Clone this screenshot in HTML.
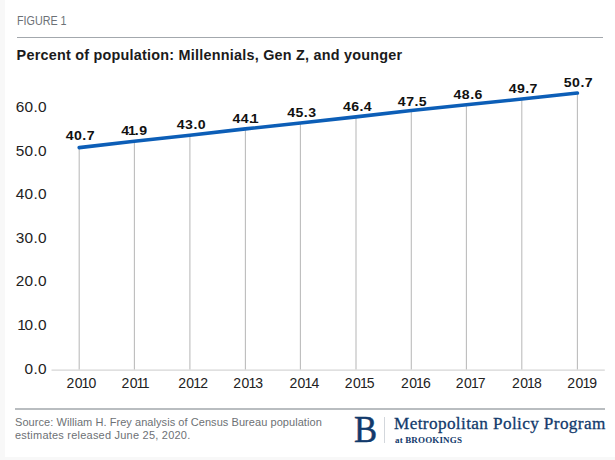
<!DOCTYPE html>
<html><head><meta charset="utf-8">
<style>
html,body{margin:0;padding:0;}
body{width:615px;height:460px;background:#f8f8f8;position:relative;overflow:hidden;font-family:"Liberation Sans",sans-serif;}
.card{position:absolute;left:5px;top:0;width:610px;height:457px;background:#fff;}
.t{position:absolute;white-space:nowrap;line-height:1;}
.fig{left:16.6px;top:15.3px;font-size:12px;color:#6c7176;transform:scaleX(0.895);transform-origin:0 0;}
.hr1{position:absolute;left:17px;top:36.9px;width:586px;height:1.3px;background:#a3a8ad;}
.title{left:16.6px;top:47.5px;font-size:14.4px;font-weight:bold;color:#1b1b1b;letter-spacing:0.23px;}
svg{position:absolute;left:0;top:0;}
.dl{font-family:"Liberation Sans",sans-serif;font-weight:bold;font-size:12.5px;fill:#111;text-anchor:middle;letter-spacing:0.4px;}
.yl{font-family:"Liberation Sans",sans-serif;font-size:14px;fill:#222;text-anchor:end;letter-spacing:0.25px;}
.xl{font-family:"Liberation Sans",sans-serif;font-size:14px;fill:#222;text-anchor:middle;letter-spacing:0.4px;}
.hr2{position:absolute;left:15px;top:408.2px;width:590px;height:1.4px;background:#b9bdc0;}
.src{left:15px;font-size:11px;color:#6d7175;}
.s1{top:416.6px;letter-spacing:0.06px;}
.s2{top:430px;letter-spacing:0.22px;}
.ser{font-family:"Liberation Serif",serif;color:#123a6c;}
.B{left:354px;top:410px;font-size:38.5px;transform:scaleX(0.9);transform-origin:0 0;-webkit-text-stroke:0.5px #123a6c;}
.vr{position:absolute;left:384px;top:417px;width:1px;height:26px;background:#d3d7dc;}
.mpp{left:394px;top:415px;font-size:17.2px;letter-spacing:0.38px;-webkit-text-stroke:0.3px #123a6c;}
.atb{left:395px;top:435.6px;font-size:9px;font-weight:bold;letter-spacing:0.15px;}
</style></head><body>
<div class="card"></div>
<div class="t fig">FIGURE 1</div>
<div class="hr1"></div>
<div class="t title">Percent of population: Millennials, Gen Z, and younger</div>
<svg width="615" height="460" viewBox="0 0 615 460">
<line x1="51.5" y1="370.2" x2="604.8" y2="370.2" stroke="#d6d6d6" stroke-width="1.2"/>
<line x1="79.20" y1="147.60" x2="79.20" y2="369.50" stroke="#bcbcbc" stroke-width="1.1"/>
<line x1="134.40" y1="141.20" x2="134.40" y2="369.50" stroke="#bcbcbc" stroke-width="1.1"/>
<line x1="189.90" y1="135.20" x2="189.90" y2="369.50" stroke="#bcbcbc" stroke-width="1.1"/>
<line x1="245.40" y1="128.90" x2="245.40" y2="369.50" stroke="#bcbcbc" stroke-width="1.1"/>
<line x1="300.40" y1="123.00" x2="300.40" y2="369.50" stroke="#bcbcbc" stroke-width="1.1"/>
<line x1="356.00" y1="116.90" x2="356.00" y2="369.50" stroke="#bcbcbc" stroke-width="1.1"/>
<line x1="411.30" y1="110.50" x2="411.30" y2="369.50" stroke="#bcbcbc" stroke-width="1.1"/>
<line x1="466.40" y1="104.80" x2="466.40" y2="369.50" stroke="#bcbcbc" stroke-width="1.1"/>
<line x1="521.80" y1="99.00" x2="521.80" y2="369.50" stroke="#bcbcbc" stroke-width="1.1"/>
<line x1="577.40" y1="93.00" x2="577.40" y2="369.50" stroke="#bcbcbc" stroke-width="1.1"/>
<path d="M79.20,147.60 L134.40,141.20 L189.90,135.20 L245.40,128.90 L300.40,123.00 L356.00,116.90 L411.30,110.50 L466.40,104.80 L521.80,99.00 L577.40,93.00" fill="none" stroke="#0c5eb7" stroke-width="3.6" stroke-linecap="round" stroke-linejoin="round"/>
<text transform="translate(80.33,140.20) scale(1.13,1)" class="dl">40.7</text>
<text transform="translate(134.43,134.80) scale(1.13,1)" class="dl"><tspan style="letter-spacing:-1.00px">4</tspan><tspan style="letter-spacing:-1.00px">1</tspan>.9</text>
<text transform="translate(191.43,128.90) scale(1.13,1)" class="dl">43.0</text>
<text transform="translate(245.68,122.50) scale(1.13,1)" class="dl">44<tspan style="letter-spacing:-2.00px">.</tspan>1</text>
<text transform="translate(301.83,116.70) scale(1.13,1)" class="dl">45.3</text>
<text transform="translate(357.53,111.30) scale(1.13,1)" class="dl">46.4</text>
<text transform="translate(412.48,105.60) scale(1.13,1)" class="dl">47.5</text>
<text transform="translate(468.18,99.40) scale(1.13,1)" class="dl">48.6</text>
<text transform="translate(523.28,93.10) scale(1.13,1)" class="dl">49.7</text>
<text transform="translate(578.43,87.40) scale(1.13,1)" class="dl">50.7</text>
<text transform="translate(46.77,112.00) scale(1.1,1)" class="yl">60.0</text>
<text transform="translate(46.77,155.60) scale(1.1,1)" class="yl">50.0</text>
<text transform="translate(46.77,199.20) scale(1.1,1)" class="yl">40.0</text>
<text transform="translate(46.77,242.80) scale(1.1,1)" class="yl">30.0</text>
<text transform="translate(46.77,286.40) scale(1.1,1)" class="yl">20.0</text>
<text transform="translate(46.77,330.00) scale(1.1,1)" class="yl"><tspan style="letter-spacing:-1.15px">1</tspan>0.0</text>
<text transform="translate(46.77,373.60) scale(1.1,1)" class="yl">0.0</text>
<text x="81.60" y="387.8" class="xl">2<tspan style="letter-spacing:-0.90px">0</tspan><tspan style="letter-spacing:-0.90px">1</tspan>0</text>
<text x="135.70" y="387.8" class="xl">2<tspan style="letter-spacing:-0.90px">0</tspan><tspan style="letter-spacing:-2.70px">1</tspan>1</text>
<text x="193.25" y="387.8" class="xl">2<tspan style="letter-spacing:-0.90px">0</tspan><tspan style="letter-spacing:-0.90px">1</tspan>2</text>
<text x="248.45" y="387.8" class="xl">2<tspan style="letter-spacing:-0.90px">0</tspan><tspan style="letter-spacing:-0.90px">1</tspan>3</text>
<text x="304.50" y="387.8" class="xl">2<tspan style="letter-spacing:-0.90px">0</tspan><tspan style="letter-spacing:-0.90px">1</tspan>4</text>
<text x="359.90" y="387.8" class="xl">2<tspan style="letter-spacing:-0.90px">0</tspan><tspan style="letter-spacing:-0.90px">1</tspan>5</text>
<text x="416.05" y="387.8" class="xl">2<tspan style="letter-spacing:-0.90px">0</tspan><tspan style="letter-spacing:-0.90px">1</tspan>6</text>
<text x="470.90" y="387.8" class="xl">2<tspan style="letter-spacing:-0.90px">0</tspan><tspan style="letter-spacing:-0.90px">1</tspan>7</text>
<text x="527.10" y="387.8" class="xl">2<tspan style="letter-spacing:-0.90px">0</tspan><tspan style="letter-spacing:-0.90px">1</tspan>8</text>
<text x="582.40" y="387.8" class="xl">2<tspan style="letter-spacing:-0.90px">0</tspan><tspan style="letter-spacing:-0.90px">1</tspan>9</text>
</svg>
<div class="hr2"></div>
<div class="t src s1">Source: William H. Frey analysis of Census Bureau population</div>
<div class="t src s2">estimates released June 25, 2020.</div>
<div class="t ser B">B</div>
<div class="vr"></div>
<div class="t ser mpp">Metropolitan Policy Program</div>
<div class="t ser atb">at BROOKINGS</div>
</body></html>
